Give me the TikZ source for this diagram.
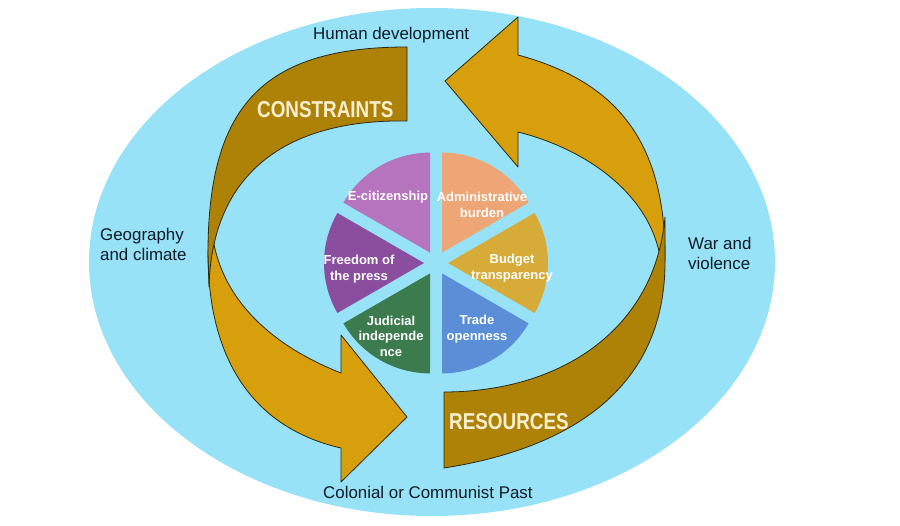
\documentclass[tikz,border=0pt]{standalone}
\usepackage{fontspec}
\setmainfont{Liberation Sans}
\newfontfamily\narrowfont[FakeStretch=0.82]{Liberation Sans}
\usetikzlibrary{calc}
\definecolor{skyfill}{HTML}{97E2F6}
\definecolor{darkarrow}{HTML}{AE8207}
\definecolor{goldarrow}{HTML}{D89F0D}
\definecolor{edgeline}{HTML}{2A2A12}
\definecolor{ecit}{HTML}{B574BD}
\definecolor{admin}{HTML}{EFA676}
\definecolor{budget}{HTML}{D7AB38}
\definecolor{trade}{HTML}{5A8ED6}
\definecolor{judic}{HTML}{3C7B4D}
\definecolor{press}{HTML}{8B4E9F}
\definecolor{cream}{HTML}{FCEFD0}
\definecolor{inktext}{HTML}{0E1A26}
\tikzset{
  arrowgold/.style={fill=goldarrow, draw=edgeline, line width=0.8pt, line join=round},
  arrowdark/.style={fill=darkarrow, draw=edgeline, line width=0.8pt, line join=round},
  outerlabel/.style={inner sep=0pt, text=inktext, font=\fontsize{16.9}{20.5}\selectfont, align=left},
  bandlabel/.style={inner sep=0pt, text=cream, font=\narrowfont\bfseries\fontsize{23}{26}\selectfont},
  slicelabel/.style={inner sep=0pt, text=white, font=\bfseries\fontsize{13}{15.5}\selectfont, align=center}
}
\begin{document}
\begin{tikzpicture}[x=1pt,y=-1pt]
\useasboundingbox (0,0) rectangle (900,526);
% background ellipse
\fill[skyfill] (432,262) ellipse [x radius=343pt, y radius=254pt];

% left arrow (constraints): gold front part, then dark back part on top
\path[arrowgold] (211,218) -- (208,253)
  .. controls (208,370) and (262,430) .. (341,448)
  -- (341,482) -- (407,417) -- (341,335) -- (341,373)
  .. controls (270,345) and (213,295) .. (211,218) -- cycle;
\path[arrowdark] (407,47) -- (407,121)
  .. controls (290,119) and (212,170) .. (209,287)
  -- (208,253)
  .. controls (208,105) and (264,47) .. (407,47) -- cycle;

% right arrow (resources)
\path[arrowgold] (445,81) -- (518,17) -- (518,55)
  .. controls (610,80) and (666,135) .. (665,260)
  -- (662,275)
  .. controls (660,200) and (590,150) .. (518,132)
  -- (518,167) -- cycle;
\path[arrowdark] (444,468) -- (444,392)
  .. controls (560,392) and (655,330) .. (665,217)
  -- (665,260)
  .. controls (666,395) and (560,450) .. (444,468) -- cycle;

% pie
\coordinate (pc) at (436,263);
\foreach \a/\b/\col in {30/90/admin, 90/150/ecit, 150/210/press, 210/270/judic, 270/330/trade, 330/390/budget}
  \fill[\col] ($(pc)+({(\a+\b)/2}:12pt)$) -- +(\a:100pt) arc[start angle=\a, end angle=\b, radius=100pt] -- cycle;

% slice labels
\node[slicelabel] (lecit) at (388,197) {E-citizenship};
\node[slicelabel] (ladmin) at (482,205) {Administrative\\burden};
\node[slicelabel] (lbudget) at (512,268) {Budget\\transparency};
\node[slicelabel] (ltrade) at (477,329) {Trade\\openness};
\node[slicelabel] (ljudic) at (391,336) {Judicial\\independe\\nce};
\node[slicelabel] (lpress) at (359,269) {Freedom of\\the press};

% band labels
\node[bandlabel, anchor=base west] (cons) at (257,118) {CONSTRAINTS};
\node[bandlabel, anchor=base west] (res) at (449,430) {RESOURCES};

% outer labels
\node[outerlabel, anchor=base west] (human) at (313,40) {Human development};
\node[outerlabel, anchor=north west] (geo) at (100,228) {Geography\\and climate};
\node[outerlabel, anchor=north west] (war) at (688,237) {War and\\violence};
\node[outerlabel, anchor=base west] (colon) at (323,498) {Colonial or Communist Past};
\end{tikzpicture}
\end{document}
